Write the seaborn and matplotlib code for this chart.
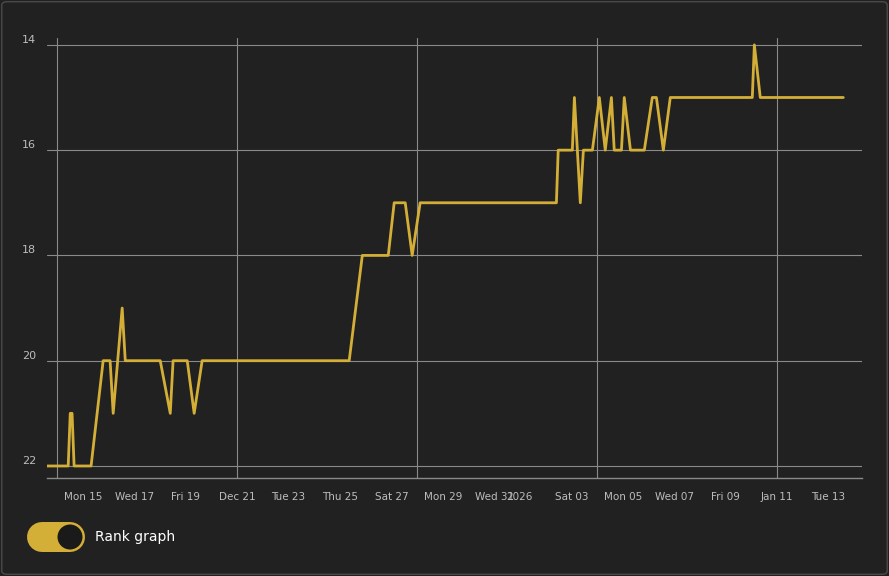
import numpy as np
import pandas as pd
import matplotlib.pyplot as plt
import seaborn as sns
from matplotlib.patches import FancyBboxPatch, Ellipse
from matplotlib.lines import Line2D
from matplotlib.ticker import FixedLocator

# --- data: days since Sun Dec 14 00:00 and rank ---
day_offset = [-0.39, 0.43, 0.51, 0.58, 0.66, 1.32, 1.79, 2.06, 2.18, 2.53, 2.65,
              4.01, 4.40, 4.51, 5.06, 5.33, 5.64, 11.36, 11.87, 12.88, 13.11,
              13.54, 13.81, 14.12, 19.42, 19.49, 20.04, 20.12, 20.35, 20.47,
              20.82, 21.09, 21.32, 21.56, 21.67, 21.95, 22.06, 22.30, 22.84,
              23.15, 23.31, 23.58, 23.85, 27.04, 27.12, 27.35, 30.58]
rank = [22, 22, 21, 21, 22, 22, 20, 20, 21, 19, 20,
        20, 21, 20, 20, 21, 20, 20, 18, 18, 17,
        17, 18, 17, 17, 16, 16, 15, 17, 16,
        16, 15, 16, 15, 16, 16, 15, 16, 16,
        15, 15, 16, 15, 15, 14, 15, 15]

tick_days = [1, 3, 5, 7, 9, 11, 13, 15, 17, 18, 20, 22, 24, 26, 28, 30]
tick_labels = ["Mon 15", "Wed 17", "Fri 19", "Dec 21", "Tue 23", "Thu 25", "Sat 27",
               "Mon 29", "Wed 31", "2026", "Sat 03", "Mon 05", "Wed 07", "Fri 09",
               "Jan 11", "Tue 13"]
week_days = [0, 7, 14, 21, 28]
rank_ticks = [14, 16, 18, 20, 22]

BG = "#212121"
GOLD = "#d4af37"
GRID = "#8a8a8a"
TXT = "#bdbdbd"

df = pd.DataFrame({"day": day_offset, "rank": rank})

sns.set_style("dark")
fig = plt.figure(figsize=(8.89, 5.76), dpi=100, facecolor=BG)
ax = fig.add_axes([0.053, 0.17, 0.917, 0.764], facecolor=BG)

sns.lineplot(data=df, x="day", y="rank", color=GOLD, linewidth=2, ax=ax)

ax.set_xlim(-0.39, 31.32)
ax.set_ylim(22.23, 13.87)
ax.set_xlabel("")
ax.set_ylabel("")

ax.set_xticks(tick_days)
ax.set_xticklabels(tick_labels, fontsize=7.5, color=TXT)
ax.xaxis.set_minor_locator(FixedLocator(week_days))
ax.xaxis.remove_overlapping_locs = False
ax.tick_params(axis="x", which="major", length=4, color=GRID, pad=6)
ax.tick_params(axis="x", which="minor", length=0)
ax.grid(False)
ax.grid(True, axis="x", which="minor", color=GRID, linewidth=0.8)

ax.set_yticks(rank_ticks)
ax.set_yticklabels([str(r) for r in rank_ticks], fontsize=8, color=TXT,
                   va="bottom")
ax.grid(True, axis="y", which="major", color=GRID, linewidth=0.8)
ax.tick_params(axis="y", length=0, pad=8)

for s in ["top", "right", "left"]:
    ax.spines[s].set_visible(False)
ax.spines["bottom"].set_color(GRID)
ax.spines["bottom"].set_linewidth(1)

# outer card border
fig.patches.append(FancyBboxPatch((0.002, 0.003), 0.996, 0.994,
                                  boxstyle="round,pad=0,rounding_size=0.006",
                                  transform=fig.transFigure, facecolor="none",
                                  edgecolor="#4a4a4a", linewidth=1))

# toggle switch
ty = 1 - 537 / 576
fig.add_artist(Line2D([42 / 889, 70 / 889], [ty, ty], color=GOLD,
                      linewidth=30 * 0.72, solid_capstyle="round",
                      transform=fig.transFigure, zorder=5))
fig.add_artist(Ellipse((70 / 889, ty), 25 / 889, 25 / 576,
                       transform=fig.transFigure, facecolor="#1a1a1a",
                       edgecolor="none", zorder=6))
fig.text(95 / 889, ty, "Rank graph", color="white", fontsize=10,
         va="center", ha="left")

fig.savefig("out.png", dpi=100, facecolor=BG)
